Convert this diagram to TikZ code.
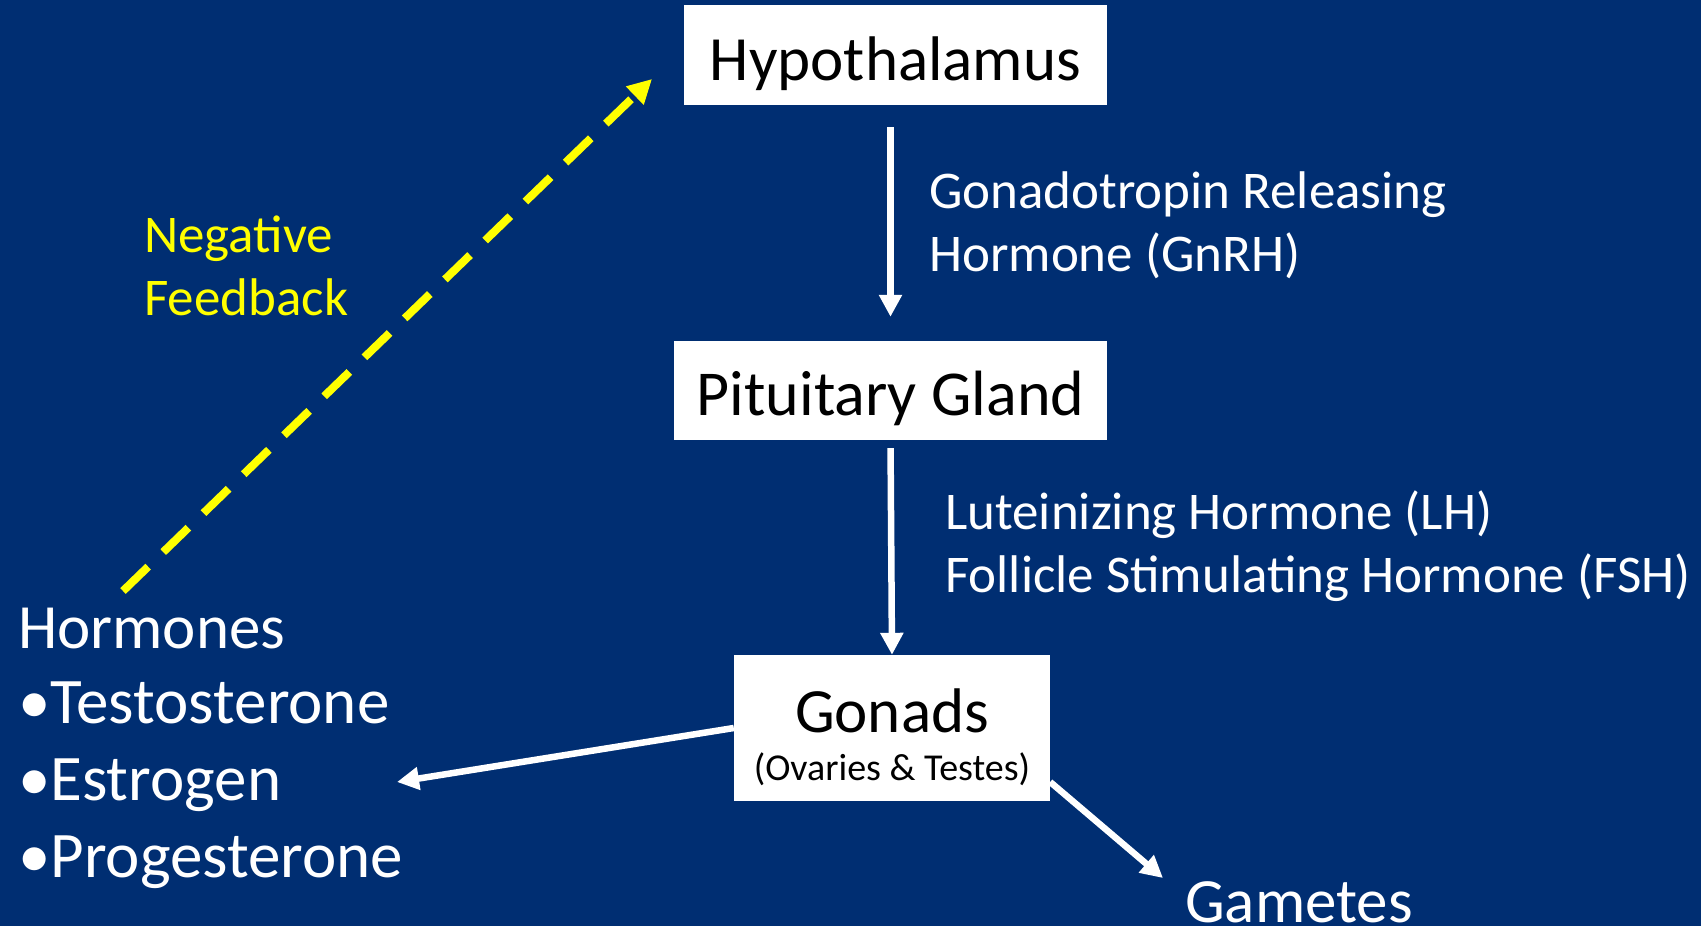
\documentclass[tikz,border=0pt]{standalone}
\usepackage{fontspec}
\setmainfont{Carlito}
\usetikzlibrary{arrows.meta}
\definecolor{bgnavy}{RGB}{0,46,114}
\definecolor{fbyellow}{RGB}{255,255,0}
\begin{document}
\begin{tikzpicture}[x=1pt,y=-1pt,
  organ/.style={fill=white, text=black, inner sep=0pt, anchor=center},
  bigtxt/.style={font=\fontsize{63}{70}\selectfont},
  midtxt/.style={font=\fontsize{53}{60}\selectfont},
  lbl/.style={text=white, inner sep=0pt, anchor=base west, midtxt},
  item/.style={text=white, inner sep=0pt, anchor=base west, bigtxt},
  fb/.style={text=fbyellow, inner sep=0pt, anchor=base west, midtxt},
  flow/.style={draw=white, line width=6.5pt, -{Triangle[length=22pt,width=22pt]}},
  feedback/.style={draw=fbyellow, line width=8pt, dash pattern=on 35pt off 21pt, -{Triangle[length=24pt,width=24pt]}}
]
\fill[bgnavy] (0,0) rectangle (1701,926);
\useasboundingbox (0,0) rectangle (1701,926);

% boxes
\node[organ, bigtxt, minimum width=423pt, text height=75pt, text depth=25pt] (hyp) at (895.5,55) {Hypothalamus};
\node[organ, font=\fontsize{64}{70}\selectfont, minimum width=433pt, text height=74pt, text depth=25pt] (pit) at (890.5,390.5) {Pituitary Gland};
\node[organ, bigtxt, minimum width=316pt, text height=77pt, text depth=69pt] (gon) at (892,728) {Gonads};
\node[text=black, inner sep=0pt, anchor=base, font=\fontsize{38}{40}\selectfont] (gonsub) at (892,780) {(Ovaries \& Testes)};

% labels
\node[lbl] (gnrh1) at (929,208) {Gonadotropin Releasing};
\node[lbl] (gnrh2) at (929,271) {Hormone (GnRH)};
\node[lbl] (lh) at (945,529) {Luteinizing Hormone (LH)};
\node[lbl] (fsh) at (945,592) {Follicle Stimulating Hormone (FSH)};
\node[fb] (neg1) at (144,252) {Negative};
\node[fb] (neg2) at (144,315) {Feedback};
\node[item] (horm) at (18,648) {Hormones};
\node[item, font=\fontsize{65}{70}\selectfont] (testo) at (18,723) {•Testosterone};
\node[item, font=\fontsize{65}{70}\selectfont] (estro) at (18,800) {•Estrogen};
\node[item, font=\fontsize{65}{70}\selectfont] (proge) at (18,877) {•Progesterone};
\node[item] (gam) at (1185,922) {Gametes};

% free ends
\coordinate (hormtip) at (397,782);
\coordinate (gamtip) at (1163,878);
\coordinate (fbstart) at (123,591);
\coordinate (fbtip) at (652,79);

% connectors
\draw[flow, shorten <=22pt, shorten >=24pt] (pit.north |- hyp.south) -- (pit.north);
\draw[flow, shorten <=8pt] (pit.south) -- (gon.north);
\draw[flow] (gon.west) -- (hormtip);
\draw[flow] ([yshift=-54pt]gon.east) -- (gamtip);
\draw[feedback] (fbstart) -- (fbtip);
\end{tikzpicture}
\end{document}
